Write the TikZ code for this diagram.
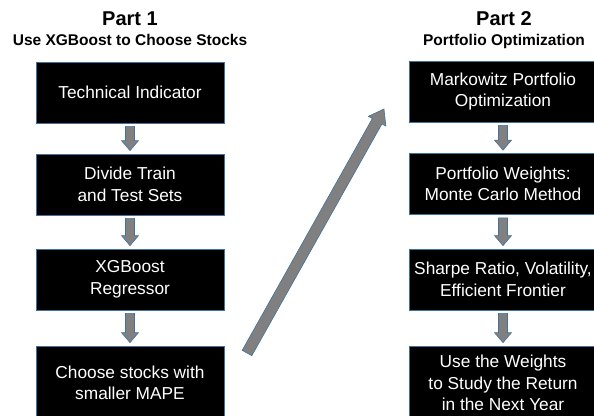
\documentclass[tikz,border=0pt]{standalone}
\usepackage{fontspec}
\setmainfont{Liberation Sans}
\usetikzlibrary{calc}

\definecolor{edgeblue}{RGB}{65,113,156}
\definecolor{arrowgray}{RGB}{128,128,128}

% block arrow: tail, tip, half shaft, half head, head length
\newcommand{\blockarrow}[5]{%
  \path (#1) coordinate (bt) (#2) coordinate (bh);
  \path ($(bh)!#5!(bt)$) coordinate (bn);
  \filldraw[fatarrow] ($(bt)!#3!90:(bh)$) -- ($(bn)!#3!90:(bh)$)
    -- ($(bn)!#4!90:(bh)$) -- (bh) -- ($(bn)!#4!-90:(bh)$)
    -- ($(bn)!#3!-90:(bh)$) -- ($(bt)!#3!-90:(bh)$) -- cycle;
}

\begin{document}
\begin{tikzpicture}[
    x=1pt, y=-1pt,
    box/.style={
      draw=edgeblue,
      line width=0.75pt,
      fill=black,
      text=white,
      align=center,
      inner sep=0pt,
      minimum width=188pt,
      minimum height=61pt,
      font=\fontsize{17.3}{21.5}\selectfont
    },
    tall/.style={box, minimum height=74pt},
    parthead/.style={anchor=base, font=\bfseries\fontsize{20}{24}\selectfont},
    partsub/.style={anchor=base, font=\bfseries\fontsize{15.5}{18}\selectfont},
    fatarrow/.style={fill=arrowgray, draw=edgeblue, line width=0.6pt}
  ]
    \useasboundingbox (0,0) rectangle (594,415);
    \clip (0,0) rectangle (594,415);

    % part 1
    \node[parthead] (part1) at (130,25) {Part 1};
    \node[partsub] (sub1) at (130,45) {Use XGBoost to Choose Stocks};
    \node[box] (tech) at (130,92.5) {Technical Indicator};
    \node[box] (split) at (130,184.5) {Divide Train\\and Test Sets};
    \node[box] (xgb) at (130,279.5) {XGBoost\\Regressor};
    \node[tall] (pick) at (130,383) {Choose stocks with\\smaller MAPE};

    % part 2
    \node[parthead] (part2) at (504,25) {Part 2};
    \node[partsub] (sub2) at (504,45) {Portfolio Optimization};
    \node[box] (markowitz) at (503,91.5) {Markowitz Portfolio\\Optimization};
    \node[box] (weights) at (503,184) {Portfolio Weights:\\Monte Carlo Method};
    \node[box] (sharpe) at (503,279.5) {Sharpe Ratio, Volatility,\\Efficient Frontier};
    \node[tall] (backtest) at (503,383) {Use the Weights\\to Study the Return\\in the Next Year};

    \blockarrow{$(tech.south)+(0,3)$}{$(split.north)+(0,-3)$}{4.5pt}{8.5pt}{10pt}
    \blockarrow{$(split.south)+(0,3)$}{$(xgb.north)+(0,-3)$}{4.5pt}{8.5pt}{10pt}
    \blockarrow{$(xgb.south)+(0,3)$}{$(pick.north)+(0,-3)$}{4.5pt}{8.5pt}{10pt}
    \blockarrow{$(markowitz.south)+(0,3)$}{$(weights.north)+(0,-3)$}{4.5pt}{8.5pt}{10pt}
    \blockarrow{$(weights.south)+(0,3)$}{$(sharpe.north)+(0,-3)$}{4.5pt}{8.5pt}{10pt}
    \blockarrow{$(sharpe.south)+(0,3)$}{$(backtest.north)+(0,-3)$}{4.5pt}{8.5pt}{10pt}

    % from part 1 to part 2
    \coordinate (rise0) at (247,353);
    \coordinate (rise1) at (384,109);
    \blockarrow{rise0}{rise1}{5.5pt}{10pt}{14pt}
  \end{tikzpicture}
\end{document}
